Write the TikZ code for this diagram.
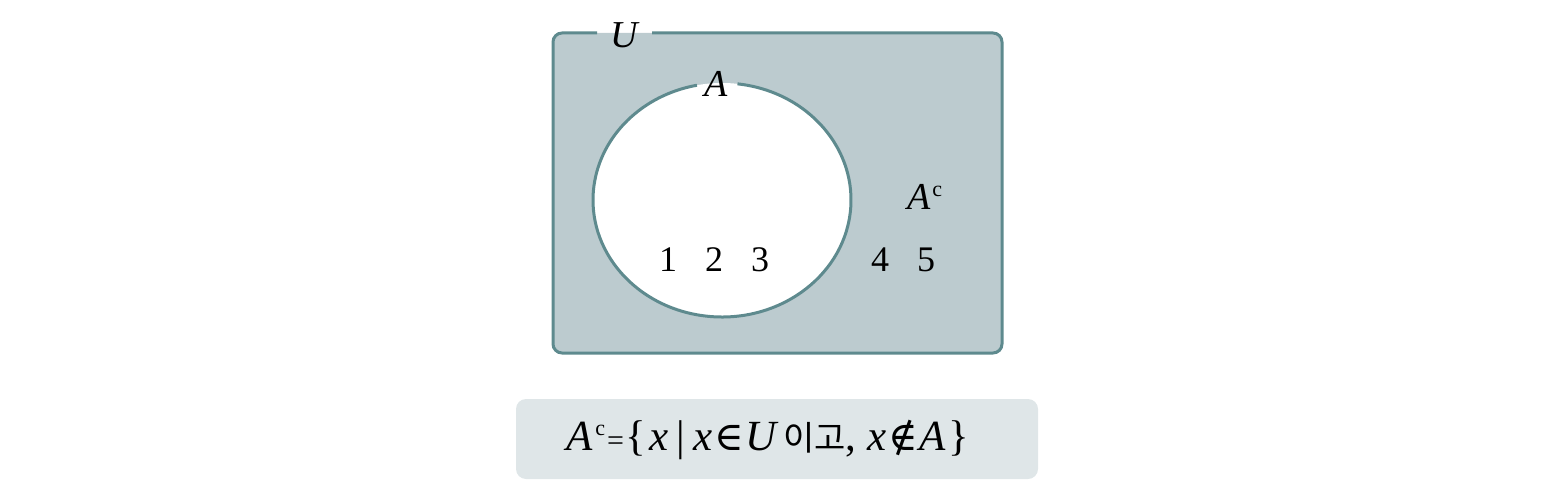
\documentclass[tikz,border=0pt]{standalone}
\usepackage{fontspec}
\setmainfont{Liberation Serif}
\newfontfamily\krfont{Noto Sans CJK KR}
\newfontfamily\symfont{DejaVu Serif}
\definecolor{ufill}{HTML}{BCCBCF}
\definecolor{uline}{HTML}{5E8A8E}
\definecolor{boxfill}{HTML}{DFE6E8}
\tikzset{
  lbl/.style={inner sep=0pt, font=\fontsize{38}{40}\selectfont},
  num/.style={inner sep=0pt, font=\fontsize{36}{38}\selectfont},
  frm/.style={inner sep=0pt, font=\fontsize{43}{45}\selectfont},
  border/.style={draw=uline, line width=3}
}
\begin{document}
\begin{tikzpicture}[x=1pt,y=-1pt]
\useasboundingbox (0,0) rectangle (1562,489);
% universe
\fill[ufill, rounded corners=9] (553,33) rectangle (1002,353);
\draw[border, rounded corners=9] (652,33) -- (1002,33) -- (1002,353) -- (553,353) -- (553,33) -- (597,33);
% set A
\fill[white] (722,200) ellipse[x radius=129, y radius=117];
\draw[border] (722,200) ++(276.9:129 and 117) arc[start angle=276.9, end angle=618.8, x radius=129, y radius=117];
% labels
\node[lbl] (U) at (625,35) {\textit{U}};
\node[lbl] (A) at (716,84) {\textit{A}};
\node[lbl] (Ac) at (925,197) {\textit{A}\kern1pt\raisebox{0.75ex}{\fontsize{22}{22}\selectfont c}};
\node[num] (n1) at (668,260) {1};
\node[num] (n2) at (714,260) {2};
\node[num] (n3) at (760,260) {3};
\node[num] (n4) at (880,260) {4};
\node[num] (n5) at (926,260) {5};
% formula box
\fill[boxfill, rounded corners=10] (516,399) rectangle (1038,479);
\node[frm] (F) at (768,440) {\textit{A}\kern2pt\raisebox{0.75ex}{\fontsize{22}{22}\selectfont c}\kern2pt{\fontsize{30}{30}\selectfont =}\kern2pt\{\kern3pt\textit{x}\kern8pt|\kern8pt\textit{x}\kern2pt{\symfont\fontsize{40}{40}\selectfont ∈}\kern2pt\textit{U}\kern4pt{\krfont\fontsize{34}{34}\selectfont 이고}, \textit{x}\kern2pt{\symfont\fontsize{40}{40}\selectfont ∉}\kern1pt\textit{A}\kern3pt\}};
\end{tikzpicture}
\end{document}
